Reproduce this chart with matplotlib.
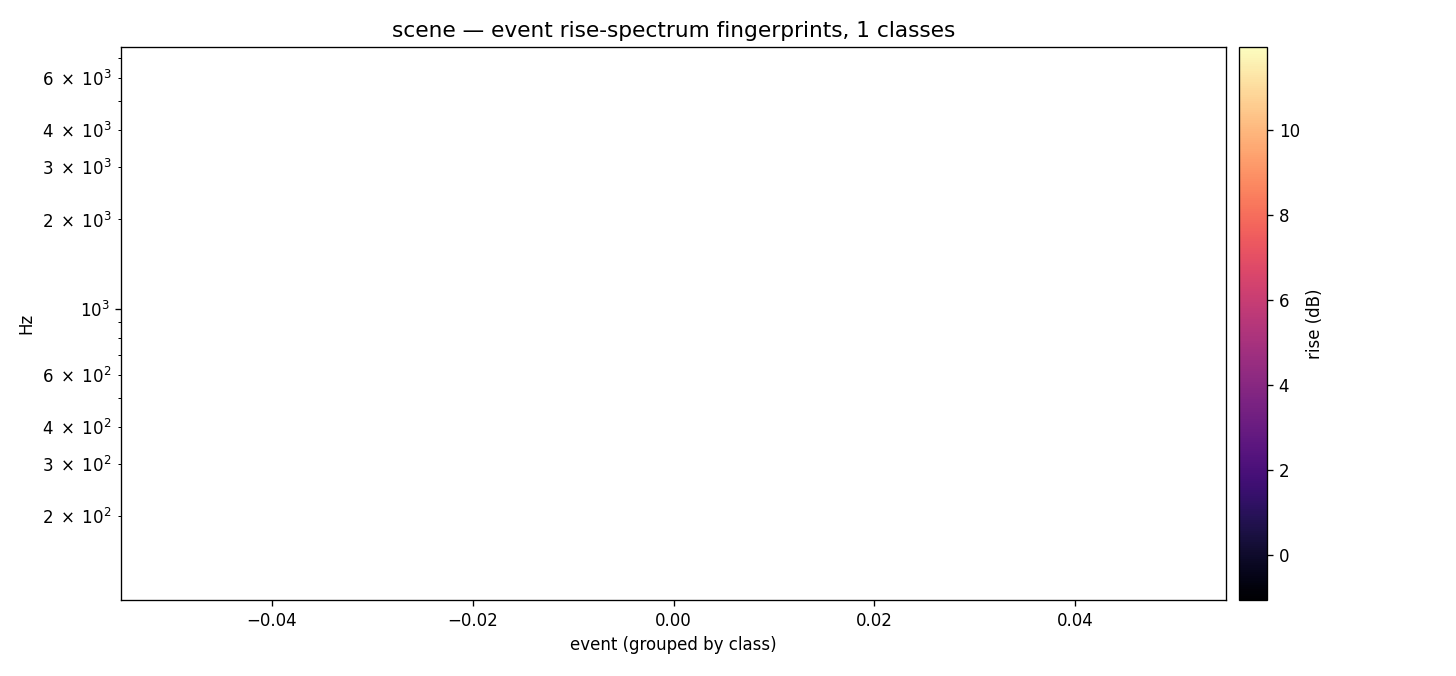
import numpy as np
import matplotlib
matplotlib.use('Agg')
import matplotlib.pyplot as plt
from matplotlib.colors import Normalize
from matplotlib.cm import ScalarMappable
from matplotlib.ticker import FuncFormatter

# ── Data (no events drawn in the reference) ─────────────────────────
n_classes = 1
event_x = [0.0]
freq_lim = [104.5, 7620.0]
rise_lim = [-1.06, 11.94]
rise_ticks = [0, 2, 4, 6, 8, 10]
labelled_coeffs = [1, 2, 3, 4, 6]


def log_label(v, pos=None):
    if v <= 0:
        return ''
    exp = int(np.floor(np.log10(v) + 1e-9))
    coeff = int(round(v / 10 ** exp))
    if coeff not in labelled_coeffs:
        return ''
    if coeff == 1:
        return rf'$\mathdefault{{10^{{{exp}}}}}$'
    return rf'$\mathdefault{{{coeff}\;\times\;10^{{{exp}}}}}$'


DPI = 120
fig = plt.figure(figsize=(1456 / DPI, 676 / DPI), dpi=DPI)
ax = fig.add_axes([0.0831, 0.1124, 0.759, 0.818])
cax = fig.add_axes([0.8510, 0.1124, 0.0192, 0.818])

ax.set_yscale('log')
xpad = 0.055
ax.set_xlim(event_x[0] - xpad, event_x[-1] + xpad)
ax.set_ylim(*freq_lim)
ax.yaxis.set_major_formatter(FuncFormatter(log_label))
ax.yaxis.set_minor_formatter(FuncFormatter(log_label))
ax.set_xlabel('event (grouped by class)')
ax.set_ylabel('Hz')
ax.set_title(f'scene \u2014 event rise-spectrum fingerprints, {n_classes} classes',
             fontsize=13)

sm = ScalarMappable(norm=Normalize(vmin=rise_lim[0], vmax=rise_lim[1]),
                    cmap='magma')
cb = fig.colorbar(sm, cax=cax)
cb.set_ticks(rise_ticks)
cb.set_label('rise (dB)')

fig.savefig('out.png', dpi=DPI)
plt.close(fig)
